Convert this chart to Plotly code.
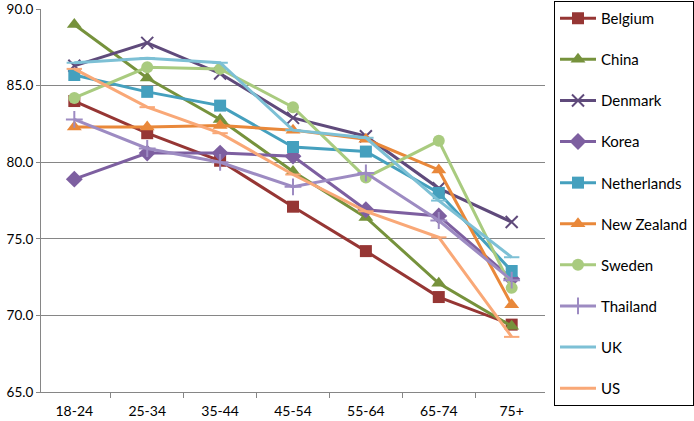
import plotly.graph_objects as go

categories = ["18-24", "25-34", "35-44", "45-54", "55-64", "65-74", "75+"]

belgium = [84.0, 81.9, 80.1, 77.1, 74.2, 71.2, 69.4]
china = [89.0, 85.5, 82.8, 79.4, 76.4, 72.1, 69.3]
denmark = [86.3, 87.8, 85.8, 82.9, 81.7, 78.3, 76.1]
korea = [78.9, 80.6, 80.6, 80.4, 76.9, 76.5, 72.4]
netherlands = [85.7, 84.6, 83.7, 81.0, 80.7, 78.0, 72.9]
new_zealand = [82.3, 82.3, 82.4, 82.1, 81.5, 79.5, 70.7]
sweden = [84.2, 86.2, 86.1, 83.6, 79.0, 81.4, 71.8]
thailand = [82.8, 80.9, 80.0, 78.4, 79.3, 76.2, 72.3]
uk = [86.5, 86.8, 86.5, 82.1, 81.6, 77.5, 73.8]
us = [86.1, 83.6, 81.9, 79.2, 76.8, 75.1, 68.6]

series = [
    ("Belgium", belgium, "#963634", "square", 12),
    ("China", china, "#76923C", "triangle-up", 13),
    ("Denmark", denmark, "#5F4A7B", "x-thin-open", 12),
    ("Korea", korea, "#7D5FA0", "diamond", 13),
    ("Netherlands", netherlands, "#45A0BE", "square", 12),
    ("New Zealand", new_zealand, "#E9883A", "triangle-up", 13),
    ("Sweden", sweden, "#A9CB7F", "circle", 12),
    ("Thailand", thailand, "#9D8BC2", "cross-thin-open", 12),
    ("UK", uk, "#7DC0D5", "line-ew-open", 11),
    ("US", us, "#F9A877", "line-ew-open", 11),
]

fig = go.Figure()
for name, vals, color, sym, size in series:
    fig.add_trace(go.Scatter(
        x=categories, y=vals, name=name, mode="lines+markers",
        legendgroup=name,
        line=dict(color=color, width=3),
        marker=dict(symbol=sym, size=size, color=color,
                    line=dict(color=color, width=2 if "open" in sym else 0)),
    ))

fig.update_layout(
    width=694, height=421,
    margin=dict(l=41, r=149, t=9, b=29),
    plot_bgcolor="white", paper_bgcolor="white",
    font=dict(family="Lato, Open Sans, sans-serif", size=14, color="#000000"),
    showlegend=True,
    legend=dict(
        xref="container", yref="container",
        x=554 / 694, y=1 - 1 / 421, xanchor="left", yanchor="top",
        bordercolor="#000000", borderwidth=1,
        font=dict(size=15),
        tracegroupgap=18.6, itemwidth=36,
        maxheight=410,
        bgcolor="white",
    ),
    xaxis=dict(
        type="category", tickson="boundaries", ticks="outside", ticklen=5,
        tickcolor="#868686", showline=True, linecolor="#868686", linewidth=1,
        showgrid=False, tickfont=dict(size=14), automargin=False,
        ticklabelstandoff=6,
    ),
    yaxis=dict(
        range=[65, 90.01], tickvals=[65, 70, 75, 80, 85, 90], tickformat=".1f",
        ticks="outside", ticklen=4, ticklabeloverflow="allow", automargin=False,
        tickcolor="#868686", showline=True, linecolor="#868686", linewidth=1,
        showgrid=True, gridcolor="#868686", gridwidth=1, zeroline=False,
        tickfont=dict(size=13.5),
    ),
)

fig.write_html("out.html")
